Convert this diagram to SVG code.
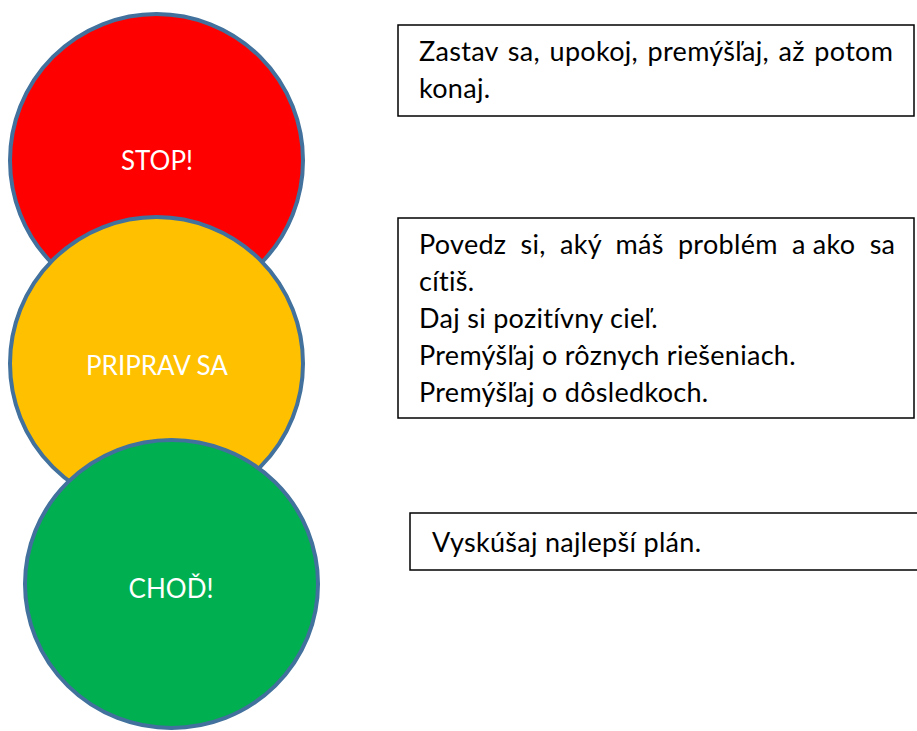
<svg xmlns="http://www.w3.org/2000/svg" width="917" height="731" viewBox="0 0 917 731">
<style>
.light{stroke:#41719C;stroke-width:4}
.lbl{font-family:Lato,"Open Sans",sans-serif;font-size:26px;fill:#fff;text-anchor:middle}
.box{fill:#fff;stroke:#000;stroke-width:1.5}
.txt{font-family:Lato,"Open Sans",sans-serif;font-size:27px;letter-spacing:0.3px;fill:#000}
</style>
<rect width="917" height="731" fill="#fff"/>
<g id="stop">
<circle class="light" cx="156.5" cy="160.5" r="146.5" fill="#FF0000"/>
<text class="lbl" x="157" y="170">STOP!</text>
</g>
<g id="priprav">
<circle class="light" cx="156.5" cy="363.5" r="146.5" fill="#FFC000"/>
<text class="lbl" x="157" y="375">PRIPRAV SA</text>
</g>
<g id="chod">
<ellipse class="light" cx="171.5" cy="584" rx="146.5" ry="144" fill="#00B050"/>
<text class="lbl" x="171" y="598">CHOĎ!</text>
</g>
<g id="box1">
<rect class="box" x="398" y="25" width="516" height="91"/>
<text class="txt" x="419" y="61" style="word-spacing:2.4px">Zastav sa, upokoj, premýšľaj, až potom</text>
<text class="txt" x="419" y="98">konaj.</text>
</g>
<g id="box2">
<rect class="box" x="398" y="218" width="516" height="200"/>
<text class="txt" x="419" y="254" style="word-spacing:7px">Povedz si, aký máš problém <tspan style="word-spacing:0">a ako</tspan> sa</text>
<text class="txt" x="419" y="291">cítiš.</text>
<text class="txt" x="419" y="328">Daj si pozitívny cieľ.</text>
<text class="txt" x="419" y="365">Premýšľaj o rôznych riešeniach.</text>
<text class="txt" x="419" y="402">Premýšľaj o dôsledkoch.</text>
</g>
<g id="box3">
<rect class="box" x="410" y="513" width="520" height="57"/>
<text class="txt" x="432" y="552">Vyskúšaj najlepší plán.</text>
</g>
<g id="connectors"></g>
</svg>
